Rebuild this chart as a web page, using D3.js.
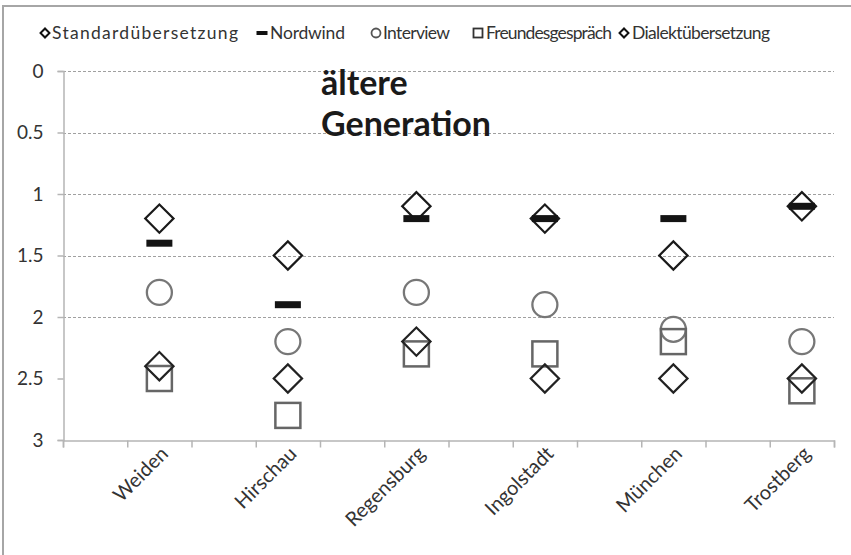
<!DOCTYPE html>
<html>
<head>
<meta charset="utf-8">
<script src="https://cdn.jsdelivr.net/npm/d3@7"></script>
<style>
  html, body { margin: 0; padding: 0; background: #fff; }
  svg { display: block; }
  text { font-family: Lato, "Open Sans", sans-serif; }
</style>
</head>
<body>
<svg id="chart" width="851" height="555"></svg>
<script>
// Places (every second slot on the category axis carries a place)
const places = ["Weiden", "Hirschau", "Regensburg", "Ingolstadt", "München", "Trostberg"];
const slotCount = 12;

// Values per series, one per place
const standard   = [1.2, 1.5, 1.1, 1.2, 1.5, 1.1];
const nordwind   = [1.4, 1.9, 1.2, 1.2, 1.2, 1.1];
const interview  = [1.8, 2.2, 1.8, 1.9, 2.1, 2.2];
const freunde    = [2.5, 2.8, 2.3, 2.3, 2.2, 2.6];
const dialekt    = [2.4, 2.5, 2.2, 2.5, 2.5, 2.5];

const seriesNames = ["Standardübersetzung", "Nordwind", "Interview", "Freundesgespräch", "Dialektübersetzung"];
const yTicks = [0, 0.5, 1, 1.5, 2, 2.5, 3];
const gridValues = [0, 0.5, 1, 1.5, 2];

const svg = d3.select("#chart");
const plotLeft = 63, plotRight = 834, plotTop = 71, plotBottom = 440;

const x = d3.scaleLinear().domain([0, slotCount]).range([plotLeft, plotRight]);
const y = d3.scaleLinear().domain([0, 3]).range([plotTop, plotBottom]);
const placeX = i => x(2 * i + 1.5);

// outer frame (top and left edges)
svg.append("path")
  .attr("d", "M3,555 V6 H851")
  .attr("fill", "none").attr("stroke", "#a6a6a6").attr("stroke-width", 2);

// gridlines
svg.append("g").selectAll("line").data(gridValues).join("line")
  .attr("x1", plotLeft).attr("x2", plotRight)
  .attr("y1", d => Math.round(y(d)) + 0.5).attr("y2", d => Math.round(y(d)) + 0.5)
  .attr("stroke", "#a0a0a0").attr("stroke-width", 1).attr("stroke-dasharray", "3,2");

// y axis
const yAxis = d3.axisLeft(y).tickValues(yTicks).tickSize(6).tickPadding(14)
  .tickFormat(d => String(d));
const gy = svg.append("g").attr("transform", `translate(${plotLeft + 0.5},0)`).call(yAxis);
gy.select(".domain").attr("stroke", "#b5b5b5").attr("stroke-width", 1.5);
gy.selectAll(".tick line").attr("stroke", "#b5b5b5").attr("stroke-width", 1.5);
gy.selectAll(".tick text").attr("font-size", 19).attr("fill", "#333")
  .style("font-family", "Lato, sans-serif");

// x axis: ticks at every slot boundary, labels under the places
const xAxis = d3.axisBottom(x).tickValues(d3.range(0, slotCount + 1)).tickSize(7).tickFormat("");
const gx = svg.append("g").attr("transform", `translate(0,${plotBottom + 0.5})`).call(xAxis);
gx.select(".domain").attr("stroke", "#b5b5b5").attr("stroke-width", 1.5);
gx.selectAll(".tick line").attr("stroke", "#b5b5b5").attr("stroke-width", 1.5);

svg.append("g").selectAll("text").data(places).join("text")
  .attr("transform", (d, i) => `translate(${placeX(i) + 10},${plotBottom + 15}) rotate(-45)`)
  .attr("text-anchor", "end")
  .attr("font-size", 20).attr("fill", "#333")
  .text(d => d);

// markers
const diamondPath = d3.symbol().type(d3.symbolSquare).size(400)();
const g = svg.append("g");

function drawDiamonds(vals, color) {
  g.append("g").selectAll("path").data(vals).join("path")
    .attr("d", diamondPath)
    .attr("transform", (d, i) => `translate(${placeX(i)},${y(d)}) rotate(45)`)
    .attr("fill", "none").attr("stroke", color).attr("stroke-width", 2.2);
}

drawDiamonds(standard, "#1a1a1a");

g.append("g").selectAll("rect").data(nordwind).join("rect")
  .attr("x", (d, i) => placeX(i) - 13).attr("y", d => y(d) - 3.5)
  .attr("width", 26).attr("height", 7)
  .attr("fill", "#141414");

g.append("g").selectAll("circle").data(interview).join("circle")
  .attr("cx", (d, i) => placeX(i)).attr("cy", d => y(d)).attr("r", 12.5)
  .attr("fill", "none").attr("stroke", "#777").attr("stroke-width", 2.3);

g.append("g").selectAll("rect").data(freunde).join("rect")
  .attr("x", (d, i) => placeX(i) - 12.5).attr("y", d => y(d) - 12.5)
  .attr("width", 25).attr("height", 25)
  .attr("fill", "none").attr("stroke", "#666").attr("stroke-width", 2.5);

drawDiamonds(dialekt, "#222");

// annotation
const note = svg.append("text").attr("x", 322).attr("font-size", 34).attr("font-weight", "bold")
  .attr("fill", "#1a1a1a");
note.append("tspan").attr("x", 321).attr("y", 95).text("ältere");
note.append("tspan").attr("x", 321).attr("y", 136).text("Generation");

// legend
const legendX = [45, 262, 376, 478, 624];
const legendTextX = [52, 270, 383, 486, 632];
const legendTextW = [186, 75, 67, 126, 138];
const ly = 33;
const lg = svg.append("g");
seriesNames.forEach((name, k) => {
  const cx = legendX[k];
  if (k === 0 || k === 4) {
    lg.append("path").attr("d", d3.symbol().type(d3.symbolSquare).size(40)())
      .attr("transform", `translate(${cx},${ly}) rotate(45)`)
      .attr("fill", "none").attr("stroke", "#111").attr("stroke-width", 2);
  } else if (k === 1) {
    lg.append("rect").attr("x", cx - 5.5).attr("y", ly - 2).attr("width", 11).attr("height", 4).attr("fill", "#111");
  } else if (k === 2) {
    lg.append("circle").attr("cx", cx).attr("cy", ly).attr("r", 4.5)
      .attr("fill", "none").attr("stroke", "#555").attr("stroke-width", 1.8);
  } else {
    lg.append("rect").attr("x", cx - 4.5).attr("y", ly - 4.5).attr("width", 9).attr("height", 9)
      .attr("fill", "none").attr("stroke", "#333").attr("stroke-width", 1.8);
  }
  lg.append("text").attr("x", legendTextX[k]).attr("y", ly + 6)
    .attr("font-size", 17.5).attr("fill", "#333")
    .attr("textLength", legendTextW[k]).attr("lengthAdjust", "spacing")
    .text(name);
});
</script>
</body>
</html>
